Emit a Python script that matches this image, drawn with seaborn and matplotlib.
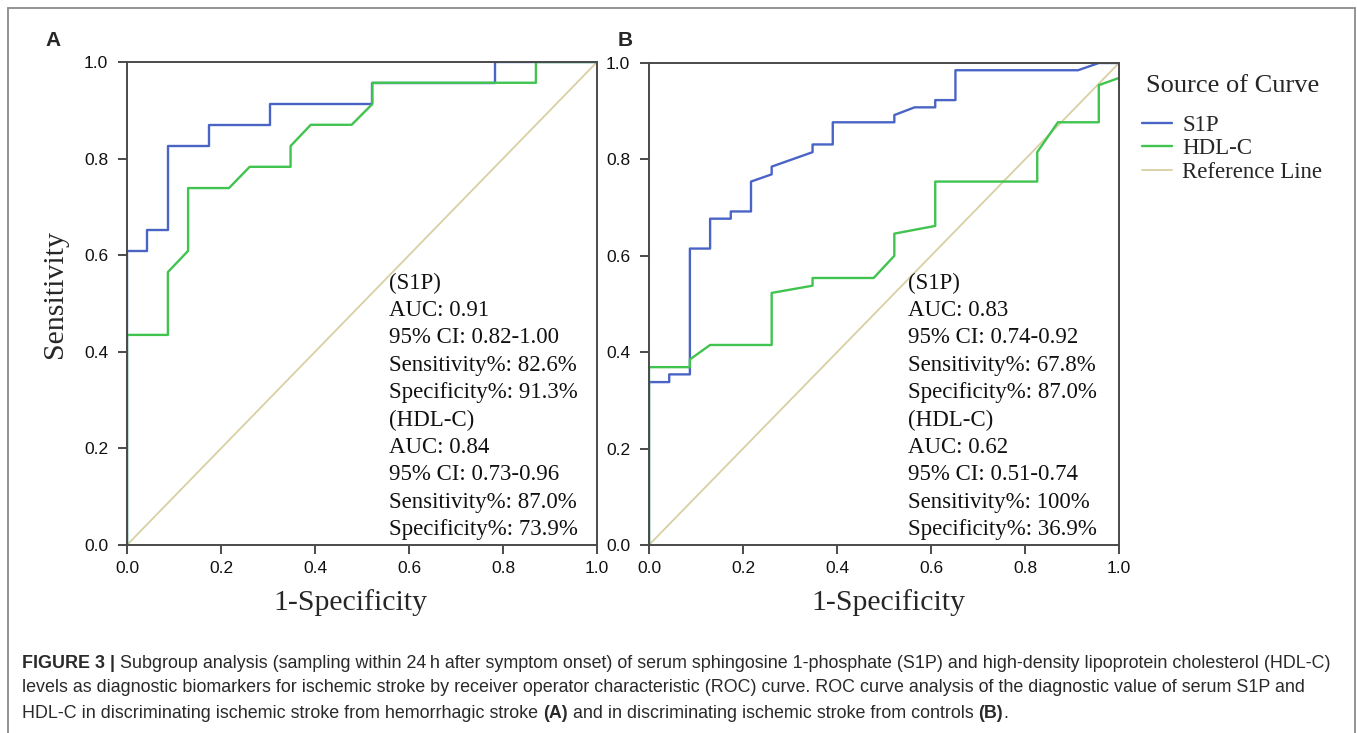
import matplotlib
matplotlib.use("Agg")
import matplotlib.pyplot as plt
import seaborn as sns
from matplotlib.patches import Rectangle

# ROC curve points
fpr_a_s1p = [0, 0, 0.043, 0.043, 0.087, 0.087, 0.174, 0.174, 0.304, 0.304, 0.522, 0.522, 0.783, 0.783, 1.0]
tpr_a_s1p = [0, 0.609, 0.609, 0.652, 0.652, 0.826, 0.826, 0.870, 0.870, 0.913, 0.913, 0.957, 0.957, 1.0, 1.0]

fpr_a_hdl = [0, 0, 0.087, 0.087, 0.130, 0.130, 0.217, 0.261, 0.348, 0.348, 0.391, 0.478, 0.522, 0.522, 0.870, 0.870, 1.0]
tpr_a_hdl = [0, 0.435, 0.435, 0.565, 0.609, 0.739, 0.739, 0.783, 0.783, 0.826, 0.870, 0.870, 0.913, 0.957, 0.957, 1.0, 1.0]

fpr_b_s1p = [0, 0, 0.043, 0.043, 0.087, 0.087, 0.130, 0.130, 0.174, 0.174, 0.217, 0.217, 0.261, 0.261,
             0.348, 0.348, 0.391, 0.391, 0.522, 0.522, 0.565, 0.609, 0.609, 0.652, 0.652, 0.913, 0.957, 1.0]
tpr_b_s1p = [0, 0.338, 0.338, 0.354, 0.354, 0.615, 0.615, 0.677, 0.677, 0.692, 0.692, 0.754, 0.769, 0.785,
             0.815, 0.831, 0.831, 0.877, 0.877, 0.892, 0.908, 0.908, 0.923, 0.923, 0.985, 0.985, 1.0, 1.0]

fpr_b_hdl = [0, 0, 0.087, 0.087, 0.130, 0.261, 0.261, 0.348, 0.348, 0.478, 0.522, 0.522, 0.609, 0.609,
             0.826, 0.826, 0.870, 0.957, 0.957, 1.0]
tpr_b_hdl = [0, 0.369, 0.369, 0.385, 0.415, 0.415, 0.523, 0.538, 0.554, 0.554, 0.600, 0.646, 0.662, 0.754,
             0.754, 0.815, 0.877, 0.877, 0.954, 0.969]

ref_line = [0, 1]

stats_a = ["(S1P)", "AUC: 0.91", "95% CI: 0.82-1.00", "Sensitivity%: 82.6%", "Specificity%: 91.3%",
           "(HDL-C)", "AUC: 0.84", "95% CI: 0.73-0.96", "Sensitivity%: 87.0%", "Specificity%: 73.9%"]
stats_b = ["(S1P)", "AUC: 0.83", "95% CI: 0.74-0.92", "Sensitivity%: 67.8%", "Specificity%: 87.0%",
           "(HDL-C)", "AUC: 0.62", "95% CI: 0.51-0.74", "Sensitivity%: 100%", "Specificity%: 36.9%"]

ticks = [0.0, 0.2, 0.4, 0.6, 0.8, 1.0]

c_s1p = "#4a64c6"
c_hdl = "#41c350"
c_ref = "#d8d0a2"

sns.set_style("white")
plt.rcParams["font.family"] = ["Liberation Sans", "DejaVu Sans"]
serif = "Liberation Serif"

W, H = 1357, 733
fig = plt.figure(figsize=(W / 100, H / 100), dpi=100)

def px_box(x0, y0, x1, y1):
    return [x0 / W, 1 - y1 / H, (x1 - x0) / W, (y1 - y0) / H]

ax_a = fig.add_axes(px_box(127, 62, 597, 545))
ax_b = fig.add_axes(px_box(649, 63, 1119, 545))

panels = [
    (ax_a, fpr_a_s1p, tpr_a_s1p, fpr_a_hdl, tpr_a_hdl, stats_a, 389, 350),
    (ax_b, fpr_b_s1p, tpr_b_s1p, fpr_b_hdl, tpr_b_hdl, stats_b, 908, 888),
]

for ax, fs, ts, fh, th, stats, tx, lx in panels:
    sns.lineplot(x=ref_line, y=ref_line, color=c_ref, lw=1.3, ax=ax, label="Reference Line")
    sns.lineplot(x=fs, y=ts, sort=False, estimator=None, color=c_s1p, lw=1.7, ax=ax, label="S1P")
    sns.lineplot(x=fh, y=th, sort=False, estimator=None, color=c_hdl, lw=1.7, ax=ax, label="HDL-C")
    ax.get_legend().remove()
    ax.set_xlim(0, 1)
    ax.set_ylim(0, 1)
    ax.set_xticks(ticks)
    ax.set_yticks(ticks)
    ax.set_xticklabels([f"{t:.1f}" for t in ticks])
    ax.set_yticklabels([f"{t:.1f}" for t in ticks])
    for sp in ax.spines.values():
        sp.set_color("#4a4a4a")
        sp.set_linewidth(1.4)
    ax.tick_params(axis="both", direction="out", length=6.5, width=1.4, color="#4a4a4a",
                   labelsize=12.5, labelcolor="#111111", left=True, bottom=True)
    ax.tick_params(axis="y", pad=7)
    ax.tick_params(axis="x", pad=5)
    ax.set_xlabel("1-Specificity", fontsize=21.5, family=serif)
    ax.xaxis.set_label_coords((lx - ax.get_position().x0 * W) / 470, -0.092, transform=ax.transAxes)
    ax.set_ylabel("")
    for i, line in enumerate(stats):
        fig.text(tx / W, 1 - (283 + 27.4 * i) / H, line, ha="left", va="center",
                 fontsize=16.5, family=serif, color="#111111")

ax_a.set_ylabel("Sensitivity", fontsize=21.5, family=serif)
ax_a.yaxis.set_label_coords(-0.125, 0.52)

fig.text(53 / W, 1 - 41 / H, "A", fontsize=15, fontweight="bold", ha="center", va="center")
fig.text(625 / W, 1 - 41 / H, "B", fontsize=15, fontweight="bold", ha="center", va="center")

# legend
fig.text(1146 / W, 1 - 86 / H, "Source of Curve", fontsize=19, family=serif, ha="left", va="center")
h, l = ax_b.get_legend_handles_labels()
order = [1, 2, 0]
fig.legend([h[i] for i in order], [l[i] for i in order], loc="upper left",
           bbox_to_anchor=(1142 / W, 1 - 115 / H), frameon=False, borderaxespad=0, borderpad=0,
           prop={"family": serif, "size": 16.5}, handlelength=1.3, handletextpad=0.45,
           labelspacing=0.1)

# outer frame
fig.patches.append(Rectangle((8 / W, -0.02), (1355 - 8) / W, 1 - 8 / H + 0.02,
                             transform=fig.transFigure, fill=False, edgecolor="#8a8a8a",
                             linewidth=1.3))

# caption
cap_lines = [
    [("FIGURE 3 |", "bold"), (" Subgroup analysis (sampling within 24\u2009h after symptom onset) of serum "
     "sphingosine 1-phosphate (S1P) and high-density lipoprotein cholesterol (HDL-C)", "normal")],
    [("levels as diagnostic biomarkers for ischemic stroke by receiver operator characteristic (ROC) curve. "
      "ROC curve analysis of the diagnostic value of serum S1P and", "normal")],
    [("HDL-C in discriminating ischemic stroke from hemorrhagic stroke ", "normal"), ("(A)", "bold"),
     (" and in discriminating ischemic stroke from controls ", "normal"), ("(B)", "bold"), (".", "normal")],
]
cap_y = [663, 688, 713]

fig.canvas.draw()
renderer = fig.canvas.get_renderer()
for segs, yy in zip(cap_lines, cap_y):
    x = 22
    for s, wt in segs:
        t = fig.text(x / W, 1 - yy / H, s, fontsize=12.9, fontweight=wt, color="#2a2a2a",
                     ha="left", va="center", family=["Liberation Sans", "DejaVu Sans"])
        bb = t.get_window_extent(renderer)
        x += bb.width

fig.savefig("out.png", dpi=100)
